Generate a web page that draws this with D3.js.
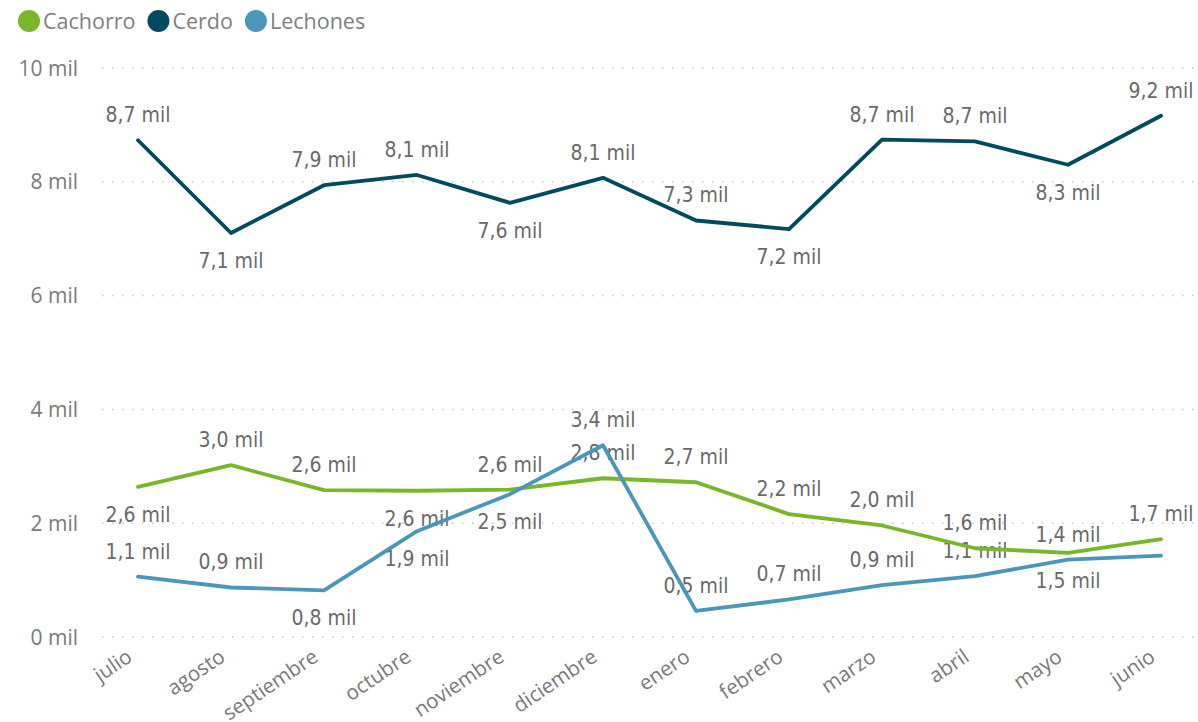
<!DOCTYPE html>
<html><head><meta charset="utf-8">
<script src="https://cdn.jsdelivr.net/npm/d3@7"></script>
<style>
html,body{margin:0;padding:0;background:#fff;}
svg{display:block;}
</style></head>
<body>
<svg id="chart" width="1198" height="722"></svg>
<script>
const months = ["julio","agosto","septiembre","octubre","noviembre","diciembre","enero","febrero","marzo","abril","mayo","junio"];
const cachorro = [2.64, 3.02, 2.58, 2.57, 2.59, 2.79, 2.72, 2.16, 1.96, 1.56, 1.48, 1.72];
const cerdo    = [8.73, 7.10, 7.94, 8.12, 7.63, 8.07, 7.32, 7.17, 8.74, 8.71, 8.30, 9.16];
const lechones = [1.06, 0.87, 0.82, 1.86, 2.51, 3.37, 0.46, 0.66, 0.91, 1.07, 1.36, 1.43];
const yTicks = [0, 2, 4, 6, 8, 10];
const seriesNames = ["Cachorro", "Cerdo", "Lechones"];
const seriesColors = ["#78B62A", "#024B5E", "#4A97BA"];
// label placement: a = above, b = below, n = hidden
const cachorroLabelPos = ["b","a","a","b","a","a","a","a","a","a","b","a"];
const cerdoLabelPos    = ["a","b","a","a","b","a","a","b","a","a","b","a"];
const lechonesLabelPos = ["a","a","b","b","b","a","a","a","a","a","a","n"];

const series = [
  {name: seriesNames[0], values: cachorro, pos: cachorroLabelPos, color: seriesColors[0]},
  {name: seriesNames[1], values: cerdo, pos: cerdoLabelPos, color: seriesColors[1]},
  {name: seriesNames[2], values: lechones, pos: lechonesLabelPos, color: seriesColors[2]}
];

const svg = d3.select("#chart");
const x = d3.scalePoint().domain(months).range([138, 1161]);
const y = d3.scaleLinear().domain([0, 10]).range([637, 68]);

const fmt = v => v.toFixed(1).replace(".", ",") + " mil";

// grid
const grid = svg.append("g");
grid.selectAll("line").data(yTicks).join("line")
  .attr("x1", 102).attr("x2", 1198)
  .attr("y1", d => y(d)).attr("y2", d => y(d))
  .attr("stroke", "#c8c8c8").attr("stroke-width", 1.5)
  .attr("stroke-dasharray", "1.5,8.5");

// y axis labels
const yAxis = d3.axisLeft(y).tickValues(yTicks).tickSize(0).tickPadding(0)
  .tickFormat(d => d + " mil");
const yg = svg.append("g").attr("transform", "translate(78,0)").call(yAxis);
yg.select(".domain").remove();
yg.selectAll("text").attr("fill", "#7a7a7a").attr("font-family", "'Open Sans', sans-serif")
  .attr("font-size", 21).attr("dy", "0.34em");

// x axis labels
const xAxis = d3.axisBottom(x).tickSize(0).tickPadding(0);
const xg = svg.append("g").attr("transform", "translate(0,637)").call(xAxis);
xg.select(".domain").remove();
xg.selectAll("text")
  .attr("fill", "#7a7a7a").attr("font-family", "'Open Sans', sans-serif").attr("font-size", 20.5)
  .attr("text-anchor", "end").attr("y", 0).attr("dy", 0)
  .attr("transform", "translate(-5,23) rotate(-34)");

// labels
const lblG = svg.append("g");
series.forEach(s => {
  s.values.forEach((v, i) => {
    if (s.pos[i] === "n") return;
    lblG.append("text")
      .attr("x", x(months[i]))
      .attr("y", y(v) + (s.pos[i] === "a" ? -18 : 35))
      .attr("text-anchor", "middle")
      .attr("font-family", "'DejaVu Sans Condensed', 'DejaVu Sans', sans-serif")
      .attr("font-size", 21)
      .attr("fill", "#6a6a6a")
      .text(fmt(v));
  });
});

// lines
const line = d3.line().x((d, i) => x(months[i])).y(d => y(d));
svg.append("g").selectAll("path").data(series).join("path")
  .attr("d", d => line(d.values))
  .attr("fill", "none").attr("stroke", d => d.color)
  .attr("stroke-width", 3.8).attr("stroke-linejoin", "round").attr("stroke-linecap", "round");

// legend
const leg = svg.append("g");
let lx = 18;
series.forEach(s => {
  leg.append("circle").attr("cx", lx + 11).attr("cy", 21).attr("r", 11).attr("fill", s.color);
  const t = leg.append("text").attr("x", lx + 25).attr("y", 21).attr("dy", "0.35em")
    .attr("font-family", "'Open Sans', sans-serif").attr("font-size", 21.5).attr("fill", "#808080")
    .text(s.name);
  lx = lx + 25 + t.node().getComputedTextLength() + 12;
});
</script>
</body></html>
